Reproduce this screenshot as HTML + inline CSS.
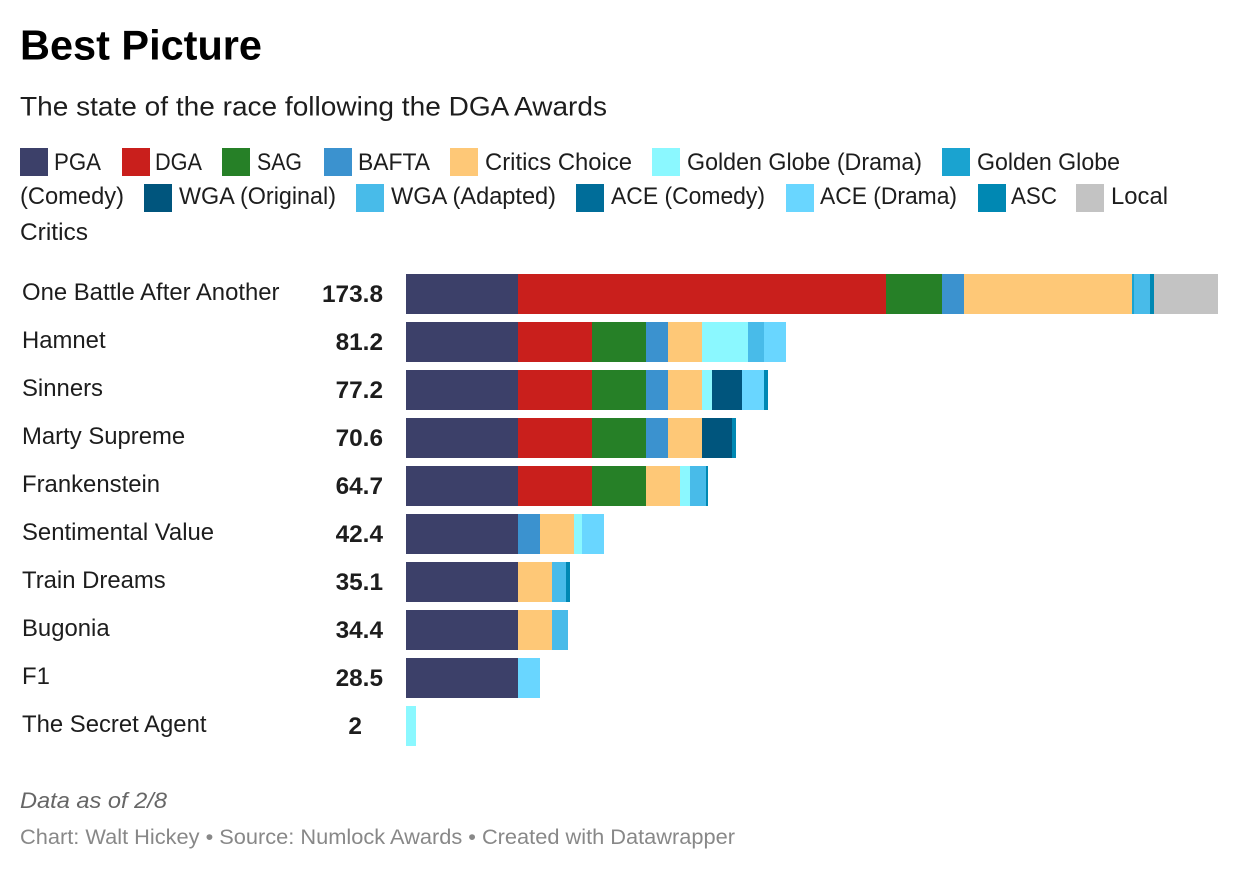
<!DOCTYPE html>
<html lang="en">
<head>
<meta charset="utf-8">
<title>Best Picture</title>
<style>
html,body{margin:0;padding:0;background:#fff;width:1240px;height:870px;overflow:hidden}
svg{display:block}
text{font-family:"Liberation Sans",sans-serif;fill:#1d1d1d}
.leg{font-size:24px}
</style>
</head>
<body>
<svg id="chart" xmlns="http://www.w3.org/2000/svg" width="1240" height="870" viewBox="0 0 1240 870">
  <text x="20" y="59.5" font-size="42" font-weight="700" fill="#000" style="fill:#000" textLength="242" lengthAdjust="spacingAndGlyphs">Best Picture</text>
  <text x="20" y="115.5" font-size="27" textLength="587" lengthAdjust="spacingAndGlyphs">The state of the race following the DGA Awards</text>

  <g>
    <g><rect x="20" y="148" width="28" height="28" fill="#3c4069"/><text class="leg" x="54" y="170" textLength="47" lengthAdjust="spacingAndGlyphs">PGA</text></g>
    <g><rect x="122" y="148" width="28" height="28" fill="#c91f1c"/><text class="leg" x="155" y="170" textLength="47" lengthAdjust="spacingAndGlyphs">DGA</text></g>
    <g><rect x="222" y="148" width="28" height="28" fill="#268027"/><text class="leg" x="257" y="170" textLength="45" lengthAdjust="spacingAndGlyphs">SAG</text></g>
    <g><rect x="324" y="148" width="28" height="28" fill="#3b92cf"/><text class="leg" x="358" y="170" textLength="72" lengthAdjust="spacingAndGlyphs">BAFTA</text></g>
    <g><rect x="450" y="148" width="28" height="28" fill="#fec877"/><text class="leg" x="485" y="170" textLength="147" lengthAdjust="spacingAndGlyphs">Critics Choice</text></g>
    <g><rect x="652" y="148" width="28" height="28" fill="#8bf8ff"/><text class="leg" x="687" y="170" textLength="235" lengthAdjust="spacingAndGlyphs">Golden Globe (Drama)</text></g>
    <g><rect x="942" y="148" width="28" height="28" fill="#1aa3d0"/><text class="leg" x="977" y="170" textLength="143" lengthAdjust="spacingAndGlyphs">Golden Globe</text><text class="leg" x="20" y="204" textLength="104" lengthAdjust="spacingAndGlyphs">(Comedy)</text></g>
    <g><rect x="144" y="184" width="28" height="28" fill="#00557d"/><text class="leg" x="179" y="204" textLength="157" lengthAdjust="spacingAndGlyphs">WGA (Original)</text></g>
    <g><rect x="356" y="184" width="28" height="28" fill="#48bbe9"/><text class="leg" x="391" y="204" textLength="165" lengthAdjust="spacingAndGlyphs">WGA (Adapted)</text></g>
    <g><rect x="576" y="184" width="28" height="28" fill="#006d99"/><text class="leg" x="611" y="204" textLength="154" lengthAdjust="spacingAndGlyphs">ACE (Comedy)</text></g>
    <g><rect x="786" y="184" width="28" height="28" fill="#69d6ff"/><text class="leg" x="820" y="204" textLength="137" lengthAdjust="spacingAndGlyphs">ACE (Drama)</text></g>
    <g><rect x="978" y="184" width="28" height="28" fill="#0088b3"/><text class="leg" x="1011" y="204" textLength="46" lengthAdjust="spacingAndGlyphs">ASC</text></g>
    <g><rect x="1076" y="184" width="28" height="28" fill="#c3c3c3"/><text class="leg" x="1111" y="204" textLength="57" lengthAdjust="spacingAndGlyphs">Local</text><text class="leg" x="20" y="240" textLength="68" lengthAdjust="spacingAndGlyphs">Critics</text></g>
  </g>

  <g id="rows"></g>

  <text x="20" y="808" font-size="22" font-style="italic" style="fill:#666" textLength="147" lengthAdjust="spacingAndGlyphs">Data as of 2/8</text>
  <text x="20" y="844" font-size="21.5" style="fill:#888" textLength="715" lengthAdjust="spacingAndGlyphs">Chart: Walt Hickey • Source: Numlock Awards • Created with Datawrapper</text>
</svg>
<script>
const categories = ["One Battle After Another","Hamnet","Sinners","Marty Supreme","Frankenstein","Sentimental Value","Train Dreams","Bugonia","F1","The Secret Agent"];
const totals = ["173.8","81.2","77.2","70.6","64.7","42.4","35.1","34.4","28.5","2"];
const pga = [24,24,24,24,24,24,24,24,24,0];
const dga = [78.8,15.8,15.8,15.8,15.8,0,0,0,0,0];
const sag = [12,11.6,11.6,11.6,11.6,0,0,0,0,0];
const bafta = [4.7,4.7,4.7,4.7,0,4.7,0,0,0,0];
const criticsChoice = [36,7.3,7.3,7.3,7.3,7.3,7.3,7.3,0,0];
const globeDrama = [0,9.8,2.1,0,2.1,1.7,0,0,0,2.1];
const globeComedy = [0.4,0,0,0,0,0,0,0,0,0];
const wgaOriginal = [0,0,6.4,6.4,0,0,0,0,0,0];
const wgaAdapted = [3.4,3.4,0,0,3.4,0,3,3.4,0,0];
const aceComedy = [0,0,0,0,0,0,0,0,0,0];
const aceDrama = [0,4.7,4.7,0,0,4.7,0,0,4.7,0];
const asc = [0.9,0,0.9,0.9,0.4,0,0.9,0,0,0];
const localCritics = [13.7,0,0,0,0,0,0,0,0,0];

const seriesList = [
  ["pga", pga, "#3c4069"],
  ["dga", dga, "#c91f1c"],
  ["sag", sag, "#268027"],
  ["bafta", bafta, "#3b92cf"],
  ["critics-choice", criticsChoice, "#fec877"],
  ["golden-globe-drama", globeDrama, "#8bf8ff"],
  ["golden-globe-comedy", globeComedy, "#1aa3d0"],
  ["wga-original", wgaOriginal, "#00557d"],
  ["wga-adapted", wgaAdapted, "#48bbe9"],
  ["ace-comedy", aceComedy, "#006d99"],
  ["ace-drama", aceDrama, "#69d6ff"],
  ["asc", asc, "#0088b3"],
  ["local-critics", localCritics, "#c3c3c3"]
];

const NS = "http://www.w3.org/2000/svg";
const rowsGroup = document.getElementById("rows");
const xDomainMax = 173.8;
const xLeft = 406;
const xSpan = 812;
const firstRowTop = 274;
const rowStep = 48;
const barHeight = 40;
const labelFit = 0.995;
const valueFit = 1.015;

function xScale(v) {
  return xLeft + Math.round((v / xDomainMax) * xSpan / 2) * 2;
}
function yScale(i) {
  return firstRowTop + i * rowStep;
}
function slug(s) {
  return s.toLowerCase().replace(/[^a-z0-9]+/g, "-");
}

categories.forEach(function (name, i) {
  const row = document.createElementNS(NS, "g");
  
  
  rowsGroup.appendChild(row);

  const label = document.createElementNS(NS, "text");
  
  
  label.setAttribute("x", 22);
  label.setAttribute("y", yScale(i) + 26);
  label.setAttribute("font-size", 24);
  label.textContent = name;
  row.appendChild(label);
  label.setAttribute("textLength", (label.getComputedTextLength() * labelFit).toFixed(1));
  label.setAttribute("lengthAdjust", "spacingAndGlyphs");

  const value = document.createElementNS(NS, "text");
  
  
  value.setAttribute("y", yScale(i) + 28);
  value.setAttribute("font-size", 24);
  value.setAttribute("font-weight", "700");
  value.textContent = totals[i];
  row.appendChild(value);
  const w = value.getComputedTextLength() * valueFit;
  const hasDecimal = totals[i].indexOf(".") >= 0;
  value.setAttribute("x", ((hasDecimal ? 383 : 362) - w).toFixed(1));
  value.setAttribute("textLength", w.toFixed(1));
  value.setAttribute("lengthAdjust", "spacingAndGlyphs");

  let cum = 0;
  seriesList.forEach(function (s) {
    const v = s[1][i];
    if (!v) return;
    const x0 = xScale(cum);
    cum += v;
    const x1 = xScale(cum);
    const seg = document.createElementNS(NS, "rect");
    
    
    seg.setAttribute("x", x0);
    seg.setAttribute("y", yScale(i));
    seg.setAttribute("width", x1 - x0);
    seg.setAttribute("height", barHeight);
    seg.setAttribute("fill", s[2]);
    row.appendChild(seg);
  });
});
</script>
</body>
</html>
